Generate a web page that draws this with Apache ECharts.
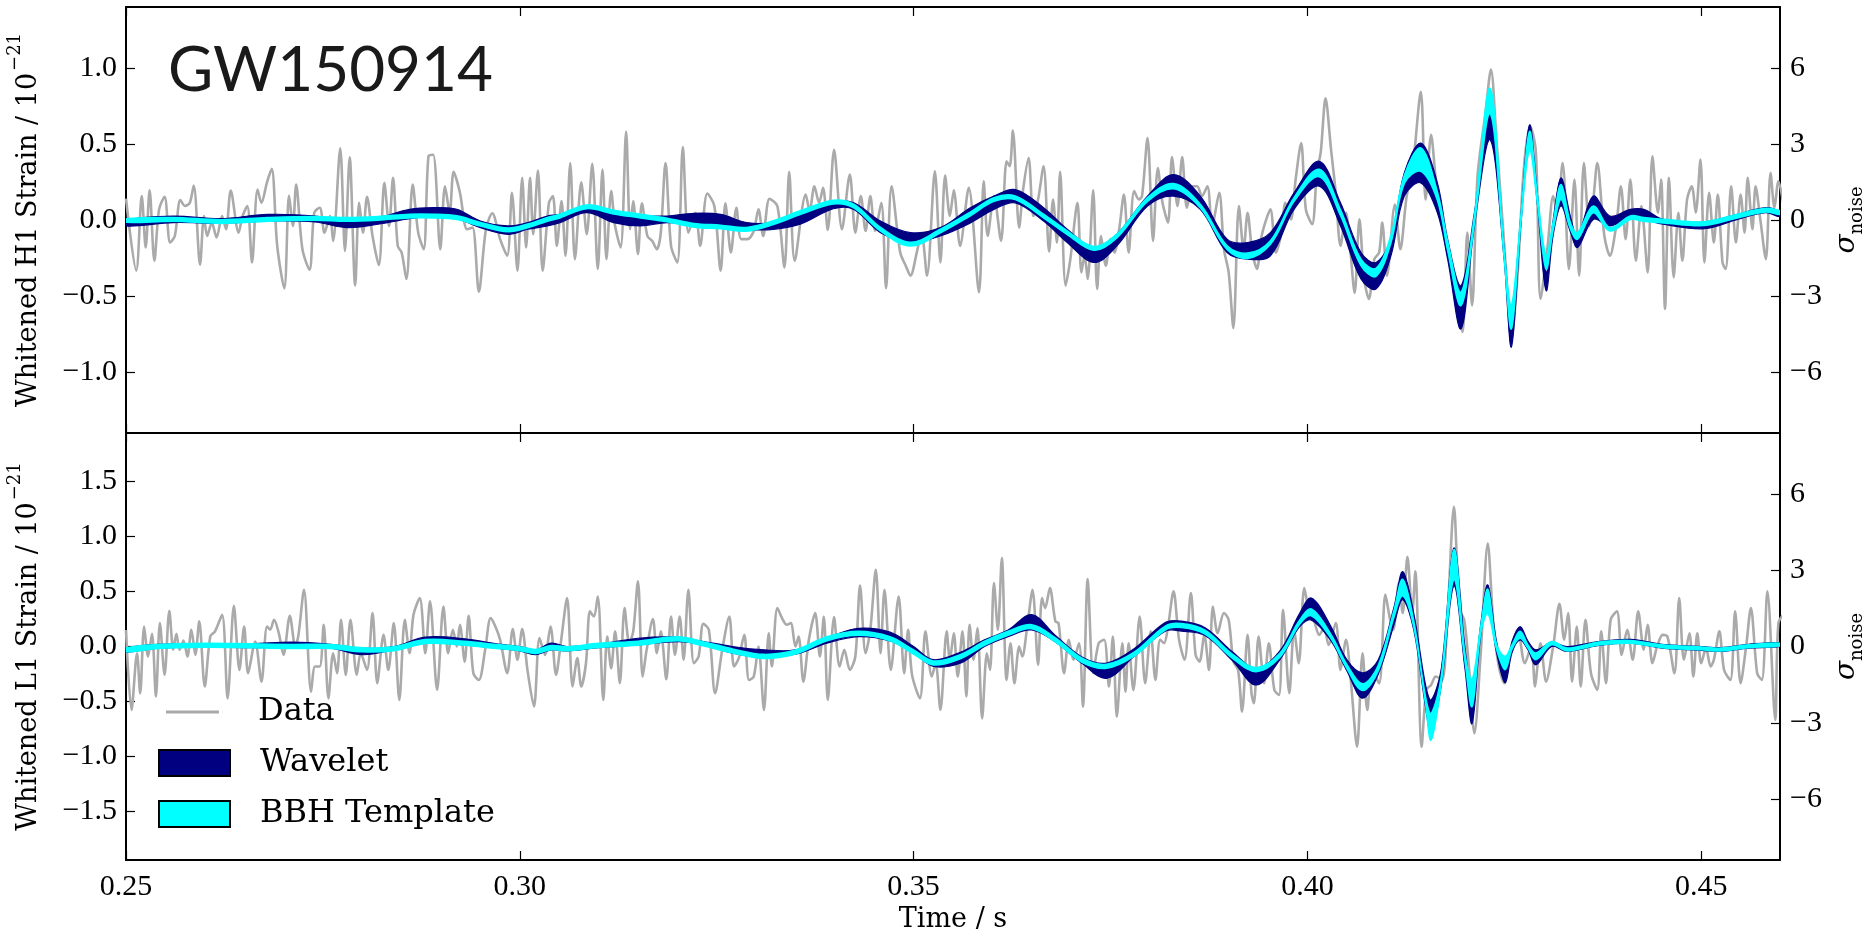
<!DOCTYPE html>
<html>
<head>
<meta charset="utf-8">
<script src="https://cdn.jsdelivr.net/npm/echarts@6/dist/echarts.min.js"></script>
<style>html,body{margin:0;padding:0;background:#fff}#c{width:1868px;height:937px}</style>
</head>
<body>
<div id="c"></div>
<script>
// ---------------- data ----------------
const xTicks = [0.25, 0.30, 0.35, 0.40, 0.45];
const h1StrainTicks = [-1.0, -0.5, 0, 0.5, 1.0];
const l1StrainTicks = [-1.5, -1.0, -0.5, 0, 0.5, 1.0, 1.5];
const sigmaTicks = [-6, -3, 0, 3, 6];
const legendNames = ['Data', 'Wavelet', 'BBH Template'];

// H1 whitened data [time s, strain 1e-21]
const h1Data = [
[0.2500,0.14],[0.2513,-0.333],[0.2520,0.157],[0.2525,-0.181],[0.2530,0.196],[0.2536,-0.268],[0.2542,0.070],[0.2549,0.153],
[0.2556,-0.148],[0.2562,-0.105],[0.2569,0.131],[0.2575,0.092],[0.2581,0.113],[0.2586,0.227],[0.2594,-0.294],[0.2599,0.026],
[0.2603,-0.105],[0.2609,-0.017],[0.2615,-0.115],[0.2622,0.026],[0.2627,-0.061],[0.2633,0.194],[0.2643,-0.083],[0.2648,0.026],
[0.2654,0.092],[0.2660,-0.279],[0.2667,0.200],[0.2672,0.113],[0.2679,0.248],[0.2685,0.336],[0.2692,-0.170],[0.2701,-0.449],
[0.2707,0.161],[0.2712,-0.039],[0.2716,0.233],[0.2724,-0.192],[0.2733,-0.327],[0.2739,0.048],[0.2746,0.081],[0.2752,-0.083],
[0.2759,0.026],[0.2763,-0.137],[0.2772,0.471],[0.2778,-0.203],[0.2784,0.412],[0.2791,-0.431],[0.2796,0.113],[0.2801,-0.083],
[0.2806,0.153],[0.2813,-0.105],[0.2821,-0.296],[0.2828,0.244],[0.2834,-0.039],[0.2839,0.277],[0.2845,-0.170],[0.2850,-0.214],
[0.2856,-0.388],[0.2864,0.233],[0.2871,-0.083],[0.2878,-0.192],[0.2884,0.418],[0.2890,0.429],[0.2899,-0.192],[0.2905,0.222],
[0.2911,0.048],[0.2916,0.316],[0.2924,0.179],[0.2933,-0.061],[0.2940,-0.050],[0.2948,-0.471],[0.2957,-0.061],[0.2965,0.044],
[0.2975,-0.126],[0.2984,-0.235],[0.2990,0.179],[0.2997,-0.333],[0.3003,0.277],[0.3008,-0.181],[0.3013,0.277],[0.3017,-0.094],
[0.3023,0.325],[0.3029,-0.333],[0.3037,0.113],
[0.3042,0.157],[0.3047,-0.170],[0.3053,0.124],[0.3058,-0.235],[0.3064,0.375],[0.3070,-0.257],[0.3078,0.248],[0.3085,-0.094],
[0.3092,0.370],[0.3099,-0.322],[0.3105,0.331],[0.3110,-0.257],[0.3116,0.190],[0.3121,-0.039],[0.3128,-0.181],[0.3135,0.582],
[0.3140,-0.061],[0.3144,0.124],[0.3150,-0.224],[0.3155,0.109],[0.3162,-0.105],[0.3168,-0.137],[0.3174,-0.192],[0.3179,-0.083],
[0.3185,0.375],[0.3192,-0.170],[0.3200,-0.279],[0.3207,0.479],[0.3214,-0.083],[0.3223,0.048],[0.3229,-0.170],[0.3238,0.174],
[0.3247,0.092],[0.3255,-0.333],[0.3261,0.109],[0.3268,-0.214],[0.3275,0.081],[0.3281,-0.126],[0.3289,-0.126],[0.3297,-0.072],
[0.3303,0.070],[0.3309,-0.105],[0.3317,0.139],[0.3327,0.092],[0.3336,-0.312],[0.3342,0.316],[0.3349,-0.268],[0.3363,0.168],
[0.3368,0.059],[0.3374,0.222],[0.3380,0.113],[0.3385,0.211],[0.3391,-0.065],[0.3399,0.462],[0.3409,-0.061],[0.3419,0.298],
[0.3426,-0.083],[0.3433,0.157],[0.3439,-0.072],[0.3445,0.157],[0.3451,-0.072],[0.3459,0.113],[0.3465,-0.449],[0.3472,0.222],
[0.3483,-0.214],[0.3490,-0.301],[0.3496,-0.366],[0.3504,-0.214],[0.3510,-0.083],[0.3517,-0.366],[0.3527,0.320],[0.3534,-0.279],
[0.3540,0.292],[0.3546,0.026],[0.3551,0.196],[0.3559,-0.170],[0.3570,0.211],
[0.3583,-0.475],[0.3589,0.255],[0.3594,-0.105],[0.3602,0.157],[0.3611,-0.137],[0.3618,0.386],[0.3622,0.353],[0.3626,0.588],
[0.3634,-0.050],[0.3639,0.200],[0.3646,0.407],[0.3652,0.026],[0.3658,0.135],[0.3665,0.353],[0.3672,-0.207],[0.3677,0.135],
[0.3682,-0.148],[0.3686,0.316],[0.3693,-0.431],[0.3699,-0.257],[0.3708,0.113],[0.3713,-0.344],[0.3717,-0.235],[0.3721,-0.388],
[0.3728,0.196],[0.3733,-0.453],[0.3738,-0.105],[0.3744,-0.301],[0.3750,-0.126],[0.3755,-0.214],[0.3761,-0.061],[0.3767,0.168],
[0.3773,-0.214],[0.3780,0.190],[0.3786,0.135],[0.3790,0.157],[0.3797,0.538],[0.3804,-0.137],[0.3810,0.342],[0.3816,0.113],
[0.3823,-0.017],[0.3828,0.414],[0.3835,0.092],[0.3841,0.414],[0.3847,0.081],[0.3854,0.222],[0.3860,0.222],[0.3866,0.157],
[0.3873,0.222],[0.3879,-0.039],[0.3888,0.179],[0.3894,-0.192],[0.3900,-0.344],[0.3906,-0.710],[0.3913,0.092],[0.3919,-0.192],
[0.3924,0.048],[0.3930,-0.214],[0.3936,-0.322],[0.3941,-0.126],[0.3947,-0.007],[0.3953,0.070],[0.3960,-0.214],[0.3967,-0.083],
[0.3972,0.113],[0.3979,0.004],[0.3985,0.266],[0.3992,0.505],[0.3998,0.070],[0.4006,-0.028],[0.4012,0.309],[0.4017,0.451],
[0.4023,0.800],[0.4030,0.462],[0.4036,0.179],[0.4042,-0.170],[0.4049,0.048],[0.4054,-0.170],[0.4060,-0.479],[0.4066,0.004],
[0.4072,-0.388],[0.4078,-0.519],[0.4085,-0.257],[0.4091,-0.214],
[0.4095,-0.017],[0.4101,-0.366],[0.4111,0.102],[0.4118,-0.192],[0.4126,0.157],[0.4133,0.309],[0.4144,0.843],[0.4150,0.135],
[0.4157,0.560],[0.4163,0.266],[0.4171,-0.039],[0.4182,-0.301],[0.4190,-0.431],[0.4197,-0.736],[0.4203,-0.083],[0.4209,-0.562],
[0.4216,0.288],[0.4226,0.702],[0.4233,0.989],[0.4240,0.527],[0.4250,-0.170],[0.4259,-0.780],[0.4267,-0.344],[0.4275,0.353],
[0.4283,0.614],[0.4290,0.451],[0.4296,-0.519],[0.4305,-0.170],[0.4312,0.157],[0.4317,0.048],[0.4324,0.375],[0.4332,-0.322],
[0.4339,0.266],[0.4345,-0.366],[0.4351,0.375],[0.4358,-0.039],[0.4363,0.135],[0.4368,0.375],[0.4377,-0.105],[0.4384,-0.235],
[0.4392,-0.039],[0.4398,0.222],[0.4404,-0.126],[0.4410,0.266],[0.4417,-0.268],[0.4424,0.092],[0.4432,-0.344],[0.4438,0.418],
[0.4445,0.048],[0.4449,0.266],[0.4454,-0.584],[0.4459,0.277],[0.4465,-0.377],[0.4471,0.048],[0.4476,-0.268],[0.4482,0.135],
[0.4488,0.222],[0.4493,0.048],[0.4499,0.397],[0.4504,-0.279],[0.4510,0.179],[0.4516,-0.148],[0.4521,0.168],[0.4527,-0.279],
[0.4531,-0.322],[0.4538,0.222],[0.4544,-0.148],[0.4550,0.168],[0.4555,-0.083],[0.4559,0.277],[0.4565,-0.061],[0.4569,0.222],
[0.4575,0.004],[0.4582,-0.257],[0.4588,0.309],[0.4593,0.081],[0.4598,0.255],[0.4606,0.05]
];

// H1 reconstructions [time, waveletLow, waveletHigh, bbhLow, bbhHigh]
const h1Bands = [
[0.2500,-0.040,0.000,-0.015,0.008],[0.2560,-0.017,0.026,-0.008,0.016],[0.2620,-0.022,0.009,-0.022,0.002],
[0.2680,-0.007,0.037,-0.008,0.016],[0.2740,-0.013,0.026,-0.001,0.023],[0.2780,-0.050,-0.007,-0.008,0.016],
[0.2820,-0.028,0.015,-0.001,0.023],[0.2860,0.009,0.070,0.014,0.038],[0.2890,0.022,0.081,0.014,0.038],
[0.2920,0.009,0.070,0.003,0.027],[0.2950,-0.050,-0.007,-0.040,-0.016],[0.2985,-0.094,-0.039,-0.077,-0.053],
[0.3010,-0.061,-0.017,-0.051,-0.027],[0.3035,-0.039,0.026,-0.008,0.016],[0.3051,-0.017,0.037,0.014,0.038],
[0.3085,0.048,0.092,0.075,0.099],[0.3119,-0.017,0.059,0.040,0.064],[0.3153,-0.039,0.031,0.014,0.038],
[0.3187,-0.017,0.026,-0.012,0.012],[0.3221,-0.028,0.044,-0.047,-0.023],[0.3255,-0.039,0.037,-0.058,-0.034],
[0.3288,-0.061,-0.017,-0.073,-0.049],[0.3322,-0.061,-0.017,-0.029,-0.005],[0.3356,-0.028,0.037,0.036,0.060],
[0.3398,0.074,0.118,0.106,0.130],[0.3424,0.070,0.113,0.080,0.104],[0.3458,-0.083,-0.007,-0.073,-0.049],
[0.3496,-0.144,-0.083,-0.171,-0.147],[0.3534,-0.105,-0.050,-0.084,-0.060],[0.3572,-0.020,0.080,0.028,0.052],
[0.3602,0.070,0.157,0.123,0.147],[0.3629,0.113,0.200,0.134,0.158],[0.3665,-0.007,0.081,0.014,0.038],
[0.3695,-0.148,-0.061,-0.095,-0.071],[0.3729,-0.279,-0.181,-0.199,-0.175],[0.3758,-0.170,-0.094,-0.117,-0.093],
[0.3797,0.092,0.157,0.123,0.147],[0.3830,0.157,0.298,0.205,0.239],[0.3864,0.070,0.157,0.080,0.104],
[0.3898,-0.214,-0.126,-0.193,-0.169],[0.3924,-0.257,-0.148,-0.252,-0.218],[0.3953,-0.235,-0.083,-0.160,-0.136],
[0.3983,0.070,0.179,0.123,0.147],[0.4015,0.222,0.386,0.285,0.333],[0.4042,-0.039,0.113,0.030,0.066],
[0.4068,-0.388,-0.214,-0.300,-0.258],[0.4087,-0.453,-0.279,-0.370,-0.318],[0.4106,-0.235,-0.126,-0.150,-0.102],
[0.4123,0.157,0.309,0.240,0.292],[0.4144,0.244,0.505,0.320,0.473],[0.4165,0.048,0.244,0.130,0.184],
[0.4178,-0.257,-0.126,-0.200,-0.140],[0.4195,-0.715,-0.431,-0.562,-0.475],[0.4212,-0.039,0.048,-0.020,0.028],
[0.4232,0.527,0.702,0.700,0.865],[0.4250,-0.270,-0.200,-0.260,-0.210],[0.4259,-0.834,-0.627,-0.715,-0.562],
[0.4271,-0.030,0.030,-0.020,0.028],[0.4282,0.527,0.625,0.462,0.582],[0.4292,0.100,0.170,0.110,0.160],
[0.4303,-0.464,-0.344,-0.322,-0.235],[0.4312,-0.100,0.000,-0.065,-0.015],[0.4322,0.092,0.277,0.135,0.233],
[0.4334,-0.080,0.020,-0.060,-0.020],[0.4343,-0.180,-0.105,-0.126,-0.083],[0.4363,0.004,0.157,0.048,0.092],
[0.4384,-0.039,0.026,-0.072,-0.050],[0.4410,0.015,0.070,0.003,0.027],[0.4427,0.004,0.070,-0.008,0.016],
[0.4452,-0.028,0.004,-0.019,0.005],[0.4504,-0.057,-0.013,-0.036,-0.012],[0.4546,0.004,0.037,0.014,0.038],
[0.4582,0.048,0.081,0.053,0.077],[0.4600,0.022,0.052,0.036,0.060]
];

// L1 whitened data [time s, strain 1e-21]
const l1Data = [
[0.2500,0.15],[0.2507,-0.577],[0.2514,-0.061],[0.2518,-0.425],[0.2523,0.182],[0.2528,-0.091],[0.2533,0.115],[0.2538,-0.455],
[0.2543,0.213],[0.2549,-0.258],[0.2555,0.325],[0.2560,-0.030],[0.2564,0.115],[0.2568,-0.030],[0.2573,0.055],[0.2578,-0.091],
[0.2583,0.152],[0.2588,-0.076],[0.2593,0.228],[0.2600,-0.364],[0.2607,0.091],[0.2613,0.137],[0.2622,0.288],[0.2629,-0.471],
[0.2637,0.370],[0.2644,-0.213],[0.2650,0.182],[0.2655,-0.243],[0.2664,0.046],[0.2672,-0.319],[0.2679,0.182],[0.2683,0.152],
[0.2688,0.243],[0.2694,0.121],[0.2700,-0.076],[0.2708,0.279],[0.2715,0.000],[0.2719,0.106],[0.2726,0.516],[0.2735,-0.410],
[0.2740,-0.182],[0.2746,-0.182],[0.2751,0.197],[0.2757,-0.471],[0.2763,-0.061],[0.2768,-0.243],[0.2773,0.243],[0.2779,-0.258],
[0.2785,0.243],[0.2793,-0.258],[0.2798,-0.061],[0.2806,-0.213],[0.2813,0.304],[0.2819,-0.334],[0.2827,0.106],[0.2833,-0.213],
[0.2840,0.213],[0.2847,-0.486],[0.2854,0.243],[0.2860,-0.061],[0.2865,0.288],[0.2873,0.440],[0.2880,-0.061],[0.2886,0.410],
[0.2895,-0.395],[0.2903,0.364],[0.2909,-0.061],[0.2915,0.152],[0.2920,0.000],[0.2924,0.197],[0.2930,-0.137],[0.2935,0.279],
[0.2941,-0.243],[0.2948,-0.304],[0.2956,-0.030],[0.2963,0.258],[0.2969,0.182],[0.2975,0.061],[0.2984,-0.243],[0.2991,0.158],
[0.2997,-0.121],[0.3003,0.158],[0.3010,-0.228],[0.3018,-0.546],[0.3025,0.076],[0.3032,-0.076],[0.3039,0.182],
[0.3046,-0.258],[0.3052,0.030],[0.3060,0.440],[0.3067,-0.364],[0.3073,-0.106],[0.3078,-0.364],[0.3084,-0.152],[0.3089,0.319],
[0.3094,0.273],[0.3099,0.455],[0.3106,-0.486],[0.3111,0.091],[0.3116,-0.197],[0.3121,0.137],[0.3127,-0.334],[0.3133,0.349],
[0.3139,0.030],[0.3144,0.137],[0.3150,0.592],[0.3156,-0.273],[0.3161,-0.030],[0.3169,0.249],[0.3174,-0.061],[0.3179,0.137],
[0.3186,-0.298],[0.3192,0.273],[0.3197,-0.076],[0.3203,0.273],[0.3208,-0.121],[0.3214,0.516],[0.3221,-0.152],[0.3227,-0.091],
[0.3233,0.206],[0.3240,0.152],[0.3248,-0.425],[0.3257,-0.030],[0.3266,0.273],[0.3272,-0.182],[0.3278,-0.106],[0.3285,0.106],
[0.3291,-0.304],[0.3297,-0.273],[0.3303,0.000],[0.3310,-0.577],[0.3316,0.121],[0.3320,-0.182],[0.3327,0.349],[0.3334,0.243],
[0.3339,0.197],[0.3344,0.213],[0.3350,0.000],[0.3354,0.091],[0.3360,-0.319],[0.3367,0.061],[0.3375,0.304],[0.3381,-0.091],
[0.3386,0.273],[0.3391,-0.486],[0.3399,0.267],[0.3406,-0.182],[0.3412,-0.030],[0.3419,-0.213],[0.3426,-0.091],[0.3432,0.553],
[0.3439,-0.061],[0.3445,0.152],[0.3452,0.698],[0.3458,-0.061],[0.3463,0.516],[0.3471,-0.213],[0.3481,0.455],[0.3488,-0.243],
[0.3493,0.152],[0.3498,-0.258],[0.3508,-0.471],[0.3515,0.137],[0.3523,-0.273],[0.3528,-0.152],[0.3534,-0.577],[0.3542,0.137],
[0.3546,-0.121],[0.3551,0.121],[0.3556,-0.273],[0.3562,0.137],[0.3567,-0.455],[0.3571,0.197],
[0.3576,-0.121],[0.3581,0.167],[0.3587,-0.653],[0.3593,-0.061],[0.3597,-0.213],[0.3602,0.577],[0.3607,0.152],[0.3612,0.804],
[0.3618,-0.304],[0.3623,0.030],[0.3628,-0.334],[0.3634,0.000],[0.3638,-0.091],[0.3644,0.167],[0.3651,0.516],[0.3658,-0.167],
[0.3663,0.440],[0.3667,0.349],[0.3673,0.531],[0.3680,0.228],[0.3684,0.213],[0.3691,-0.243],[0.3697,0.061],[0.3703,-0.121],
[0.3710,0.030],[0.3715,-0.546],[0.3721,0.613],[0.3728,-0.243],[0.3735,0.030],[0.3742,0.061],[0.3748,-0.364],[0.3753,0.091],
[0.3758,-0.638],[0.3765,0.030],[0.3769,-0.410],[0.3773,0.030],[0.3779,-0.395],[0.3787,0.273],[0.3794,-0.334],[0.3801,0.137],
[0.3807,-0.304],[0.3813,0.061],[0.3818,0.030],[0.3823,0.182],[0.3830,0.501],[0.3837,0.061],[0.3844,-0.121],[0.3852,0.486],
[0.3858,-0.076],[0.3863,-0.137],[0.3869,0.106],[0.3875,-0.213],[0.3880,0.364],[0.3886,0.121],[0.3894,0.304],[0.3900,0.243],
[0.3906,-0.137],[0.3912,-0.213],[0.3917,-0.592],[0.3924,0.106],[0.3929,-0.425],[0.3932,-0.516],[0.3938,0.091],[0.3945,-0.334],
[0.3951,0.030],[0.3958,-0.395],[0.3964,-0.440],[0.3969,0.334],[0.3977,-0.425],[0.3983,0.152],[0.3989,-0.152],[0.3996,0.531],
[0.4002,0.319],[0.4008,0.243],[0.4015,0.106],[0.4021,0.167],[0.4027,0.015],[0.4036,0.213],[0.4042,-0.213],[0.4049,0.061],
[0.4055,-0.304],[0.4063,-0.911],[0.4070,-0.061],[0.4076,-0.577],[0.4082,-0.213],[0.4091,-0.334],
[0.4099,0.471],[0.4105,0.243],[0.4109,0.152],[0.4116,0.577],[0.4121,0.304],[0.4127,0.814],[0.4133,0.304],[0.4137,0.683],
[0.4145,-0.911],[0.4151,-0.395],[0.4157,-0.349],[0.4163,-0.273],[0.4171,-0.304],[0.4178,0.304],[0.4186,1.269],[0.4193,0.334],
[0.4199,0.243],[0.4205,-0.182],[0.4212,-0.789],[0.4220,-0.061],[0.4229,0.935],[0.4236,0.213],[0.4243,-0.182],[0.4250,-0.334],
[0.4258,-0.030],[0.4267,0.137],[0.4276,-0.152],[0.4284,0.000],[0.4289,-0.364],[0.4292,-0.182],[0.4296,0.030],[0.4303,-0.319],
[0.4312,0.000],[0.4320,0.389],[0.4326,0.061],[0.4331,0.304],[0.4336,-0.319],[0.4342,0.182],[0.4347,-0.364],[0.4353,0.243],
[0.4360,-0.243],[0.4368,-0.395],[0.4373,0.137],[0.4379,-0.334],[0.4385,0.243],[0.4393,0.319],[0.4399,-0.076],[0.4406,0.152],
[0.4413,-0.121],[0.4420,0.319],[0.4427,-0.030],[0.4432,0.197],[0.4438,-0.152],[0.4444,0.000],[0.4451,0.106],[0.4457,0.091],
[0.4466,-0.243],[0.4472,0.440],[0.4478,-0.121],[0.4485,0.121],[0.4490,-0.273],[0.4495,0.121],[0.4500,-0.152],[0.4506,-0.015],
[0.4512,-0.182],[0.4516,-0.121],[0.4523,0.137],[0.4529,-0.213],[0.4537,-0.304],[0.4543,0.319],[0.4550,-0.334],[0.4557,0.000],
[0.4563,0.349],[0.4571,-0.243],[0.4577,-0.304],[0.4584,0.501],[0.4594,-0.668],[0.4598,0.213],[0.4606,0.30]
];

// L1 reconstructions [time, waveletLow, waveletHigh, bbhLow, bbhHigh]
const l1Bands = [
[0.2500,-0.050,-0.015,-0.048,-0.012],[0.2540,-0.015,0.020,-0.018,0.018],[0.2600,-0.005,0.025,-0.006,0.030],
[0.2660,-0.010,0.025,-0.012,0.024],[0.2710,-0.005,0.040,-0.018,0.018],[0.2760,-0.015,0.020,-0.018,0.018],
[0.2800,-0.075,-0.015,-0.048,-0.012],[0.2840,-0.030,0.000,-0.038,-0.002],[0.2880,0.030,0.085,0.027,0.063],
[0.2930,0.015,0.070,0.012,0.048],[0.2970,-0.015,0.025,-0.018,0.018],[0.3000,-0.040,0.000,-0.038,-0.002],
[0.3020,-0.075,-0.030,-0.063,-0.027],[0.3040,-0.030,0.030,-0.028,0.008],[0.3060,-0.040,0.000,-0.038,-0.002],
[0.3100,-0.010,0.020,-0.008,0.028],[0.3150,0.015,0.075,0.012,0.048],[0.3200,0.045,0.085,0.052,0.088],
[0.3230,0.020,0.050,0.012,0.048],[0.3270,-0.060,0.000,-0.058,-0.022],[0.3310,-0.100,-0.030,-0.108,-0.072],
[0.3350,-0.070,-0.030,-0.068,-0.032],[0.3390,0.030,0.080,0.052,0.088],[0.3430,0.090,0.165,0.102,0.138],
[0.3470,0.050,0.130,0.052,0.088],[0.3500,-0.060,0.000,-0.068,-0.032],[0.3525,-0.180,-0.120,-0.168,-0.132],
[0.3560,-0.150,-0.050,-0.108,-0.072],[0.3590,0.000,0.060,0.012,0.048],[0.3620,0.090,0.150,0.102,0.138],
[0.3650,0.150,0.290,0.162,0.198],[0.3680,0.040,0.100,0.042,0.078],[0.3715,-0.160,-0.100,-0.148,-0.112],
[0.3745,-0.290,-0.150,-0.198,-0.162],[0.3780,-0.090,-0.020,-0.088,-0.052],[0.3820,0.140,0.220,0.152,0.188],
[0.3840,0.140,0.230,0.172,0.208],[0.3870,0.100,0.170,0.112,0.148],[0.3905,-0.130,-0.050,-0.108,-0.072],
[0.3935,-0.350,-0.200,-0.228,-0.192],[0.3965,-0.120,-0.040,-0.098,-0.062],[0.3990,0.180,0.300,0.202,0.238],
[0.4005,0.240,0.440,0.280,0.340],[0.4030,0.050,0.180,0.072,0.108],[0.4050,-0.220,-0.120,-0.198,-0.162],
[0.4070,-0.470,-0.240,-0.400,-0.340],[0.4090,-0.250,-0.120,-0.220,-0.170],[0.4110,0.200,0.360,0.270,0.330],
[0.4121,0.425,0.680,0.460,0.610],[0.4135,0.150,0.300,0.180,0.230],[0.4150,-0.550,-0.350,-0.520,-0.460],
[0.4157,-0.790,-0.486,-0.850,-0.610],[0.4170,-0.350,-0.200,-0.330,-0.270],[0.4186,0.550,0.895,0.610,0.880],
[0.4200,-0.200,0.000,-0.130,-0.070],[0.4209,-0.700,-0.425,-0.545,-0.300],[0.4220,0.100,0.200,0.120,0.180],
[0.4229,0.390,0.560,0.300,0.520],[0.4240,-0.050,0.050,-0.020,0.020],[0.4251,-0.330,-0.210,-0.210,-0.090],
[0.4260,-0.050,0.050,-0.020,0.020],[0.4270,0.060,0.180,0.075,0.137],[0.4280,-0.030,0.050,-0.015,0.015],
[0.4290,-0.167,-0.030,-0.120,-0.060],[0.4310,0.000,0.035,0.015,0.045],[0.4330,-0.045,0.000,-0.040,-0.015],
[0.4370,0.010,0.045,0.015,0.040],[0.4410,0.030,0.065,0.030,0.055],[0.4450,-0.015,0.020,-0.010,0.015],
[0.4500,-0.035,0.000,-0.030,-0.005],[0.4525,-0.045,-0.010,-0.040,-0.015],[0.4560,-0.015,0.020,-0.010,0.015],
[0.4600,0.000,0.035,0.005,0.030]
];

// ---------------- chart ----------------
const NUMF = "'Liberation Serif', 'Times New Roman', serif";
const TXTF = "'DejaVu Serif', serif";
const NAVY = '#000080', CYAN = '#00ffff', GREY = '#aaaaaa';
const minus = s => s.replace('-', '\u2212');

function spine() { return {show: true, onZero: false, lineStyle: {color: '#000', width: 2}}; }
function ticks(vals) { return {show: true, inside: true, length: 9, customValues: vals, lineStyle: {color: '#000', width: 1.2}}; }

function xAxes(gi, withLabels) {
  const bottom = {
    type: 'value', gridIndex: gi, min: 0.25, max: 0.46, position: 'bottom',
    axisLine: spine(), axisTick: ticks(xTicks), splitLine: {show: false},
    axisLabel: withLabels ? {show: true, customValues: xTicks, margin: 12, fontFamily: NUMF, fontSize: 30, color: '#000',
      formatter: v => v.toFixed(2)} : {show: false}
  };
  if (withLabels) {
    bottom.name = 'Time / s';
    bottom.nameLocation = 'middle';
    bottom.nameGap = 46;
    bottom.nameTextStyle = {fontFamily: TXTF, fontSize: 27, color: '#000'};
  }
  const top = {
    type: 'value', gridIndex: gi, min: 0.25, max: 0.46, position: 'top',
    axisLine: spine(), axisTick: ticks(xTicks), splitLine: {show: false}, axisLabel: {show: false}
  };
  return [bottom, top];
}

function yAxes(gi, lim, strainTicks, det) {
  const left = {
    type: 'value', gridIndex: gi, min: -lim, max: lim, position: 'left',
    axisLine: spine(), axisTick: ticks(strainTicks), splitLine: {show: false},
    axisLabel: {show: true, customValues: strainTicks, margin: 9, fontFamily: NUMF, fontSize: 30, color: '#000',
      formatter: v => minus(v.toFixed(1))},
    name: '{a|Whitened ' + det + ' Strain / 10}{s|\u221221}',
    nameLocation: 'middle', nameRotate: 90, nameGap: 84,
    nameTextStyle: {color: '#000', rich: {
      a: {fontFamily: TXTF, fontSize: 27, color: '#000', lineHeight: 40, verticalAlign: 'bottom'},
      s: {fontFamily: TXTF, fontSize: 18, color: '#000', lineHeight: 40, verticalAlign: 'top', padding: [4, 0, 0, 2]}
    }}
  };
  const right = {
    type: 'value', gridIndex: gi, min: -8.4, max: 8.4, position: 'right',
    axisLine: spine(), axisTick: ticks(sigmaTicks), splitLine: {show: false},
    axisLabel: {show: true, customValues: sigmaTicks, margin: 10, fontFamily: NUMF, fontSize: 30, color: '#000',
      formatter: v => minus(String(v))},
    name: '{i|\u03c3}{b|noise}',
    nameLocation: 'middle', nameRotate: 90, nameGap: 52,
    nameTextStyle: {color: '#000', rich: {
      i: {fontFamily: TXTF, fontStyle: 'italic', fontSize: 28, color: '#000', lineHeight: 36, verticalAlign: 'top'},
      b: {fontFamily: TXTF, fontSize: 18, color: '#000', lineHeight: 36, verticalAlign: 'bottom', padding: [0, 0, 2, 0]}
    }}
  };
  return [left, right];
}

// filled band between two columns of a bands table, drawn through the axes' scales
function bandSeries(gi, bands, loIdx, hiIdx, color, name, z, lw) {
  return {
    type: 'custom', name: name, xAxisIndex: gi * 2, yAxisIndex: gi * 2, z: z, silent: true, clip: true,
    itemStyle: {color: color},
    data: bands.map(r => [r[0], r[loIdx], r[hiIdx]]),
    encode: {x: 0, y: [1, 2]},
    renderItem: function (params, api) {
      if (params.dataIndex !== 0) return null;
      const upper = bands.map(r => api.coord([r[0], r[hiIdx]]));
      const lower = bands.map(r => api.coord([r[0], r[loIdx]])).reverse();
      return {
        type: 'polygon',
        shape: {points: upper.concat(lower), smooth: 0.35},
        style: {fill: color, stroke: color, lineWidth: lw, lineJoin: 'round'}
      };
    }
  };
}

function panelSeries(gi, data, bands) {
  return [
    {type: 'line', name: 'Data', xAxisIndex: gi * 2, yAxisIndex: gi * 2, symbol: 'none', silent: true,
     data: data, smooth: 0.3, lineStyle: {color: GREY, width: 2.6}, itemStyle: {color: GREY}, z: 2},
    bandSeries(gi, bands, 1, 2, NAVY, 'Wavelet', 3, 1.2),
    bandSeries(gi, bands, 3, 4, CYAN, 'BBH Template', 4, 1.6)
  ];
}

const chart = echarts.init(document.getElementById('c'), null, {renderer: 'canvas'});
const xa = xAxes(0, false).concat(xAxes(1, true));
const ya = yAxes(0, 1.4, h1StrainTicks, 'H1').concat(yAxes(1, 1.94, l1StrainTicks, 'L1'));

chart.setOption({
  animation: false,
  backgroundColor: '#fff',
  title: {text: 'GW150914', left: 163, top: 35,
    textStyle: {fontFamily: 'Lato', fontWeight: 400, fontSize: 62, color: '#1a1a1a'}},
  grid: [
    {left: 126, top: 7, width: 1654, height: 426, outerBoundsMode: 'none', containLabel: false},
    {left: 126, top: 433, width: 1654, height: 427, outerBoundsMode: 'none', containLabel: false}
  ],
  xAxis: xa,
  yAxis: ya,
  legend: [
    {data: [{name: legendNames[0], icon: 'rect', itemStyle: {color: GREY, borderWidth: 0}}],
     selectedMode: false, left: 161, top: 690, itemWidth: 53, itemHeight: 3,
     textStyle: {fontFamily: TXTF, fontSize: 32, color: '#000', lineHeight: 34, padding: [0, 0, 0, 34]}},
    {data: [
       {name: legendNames[1], icon: 'rect', itemStyle: {color: NAVY, borderColor: '#000', borderWidth: 2}},
       {name: legendNames[2], icon: 'rect', itemStyle: {color: CYAN, borderColor: '#000', borderWidth: 2}}],
     orient: 'vertical', selectedMode: false, left: 153, top: 741, itemWidth: 71, itemHeight: 26, itemGap: 17,
     textStyle: {fontFamily: TXTF, fontSize: 32, color: '#000', lineHeight: 34, padding: [0, 0, 0, 25]}}
  ],
  series: panelSeries(0, h1Data, h1Bands).concat(panelSeries(1, l1Data, l1Bands))
});
</script>
</body>
</html>
